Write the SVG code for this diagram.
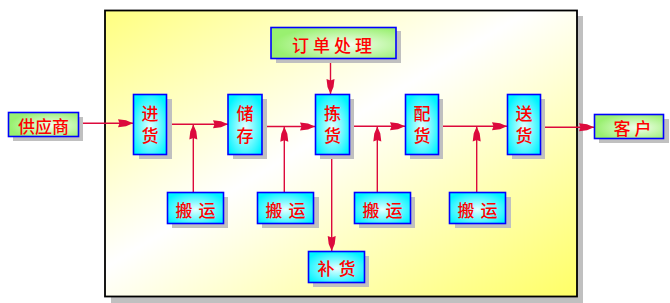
<svg xmlns="http://www.w3.org/2000/svg" width="670" height="303" viewBox="0 0 670 303">
<defs>
<linearGradient id="bg" x1="0" y1="0" x2="1" y2="1">
<stop offset="0" stop-color="#FFFF80"/>
<stop offset="0.45" stop-color="#FFFFFF"/>
<stop offset="1" stop-color="#FFFF66"/>
</linearGradient>
<radialGradient id="cyan" cx="0.5" cy="0.55" r="0.6">
<stop offset="0" stop-color="#E6FFFF"/>
<stop offset="1" stop-color="#00F4FF"/>
</radialGradient>
<radialGradient id="green" cx="0.62" cy="0.55" r="0.6">
<stop offset="0" stop-color="#F4FFF0"/>
<stop offset="1" stop-color="#99F070"/>
</radialGradient>
<marker id="ah" markerUnits="userSpaceOnUse" markerWidth="17" markerHeight="10" viewBox="-16 -5 17 10" refX="0" refY="0" orient="auto">
<path d="M0,0 L-7,-3 L-15,-4 L-13.5,0 L-15,4 L-7,3 Z" fill="#DC0A3C"/>
</marker>
<style>
.sh{fill:#C0C0C0}
.cy{fill:url(#cyan);stroke:#0000FF;stroke-width:1.6}
.gr{fill:url(#green);stroke:#0000FF;stroke-width:1.6}
.t{font-family:"Noto Sans CJK SC","Noto Sans CJK JP",sans-serif;font-size:17px;font-weight:500;fill:#FF0000;text-anchor:middle;dominant-baseline:central}
.v{font-family:"Noto Sans CJK SC","Noto Sans CJK JP",sans-serif;font-size:17px;font-weight:500;fill:#FF0000;writing-mode:vertical-rl;text-orientation:upright;text-anchor:start;dominant-baseline:central;letter-spacing:5px}
.c{stroke:#DC0A3C;stroke-width:1.4;fill:none;marker-end:url(#ah)}
</style>
</defs>
<g id="boundary">
<rect x="111" y="16" width="472" height="287" class="sh"/>
<rect x="105" y="10.5" width="472" height="286" fill="url(#bg)" stroke="#000" stroke-width="1.8"/>
</g>
<g id="connectors">
<line x1="79" y1="123.3" x2="133" y2="123.3" class="c"/>
<line x1="166" y1="124.3" x2="228" y2="124.3" class="c"/>
<line x1="262" y1="126.5" x2="315" y2="126.5" class="c"/>
<line x1="350" y1="126.3" x2="405" y2="126.3" class="c"/>
<line x1="439" y1="126.3" x2="507" y2="126.3" class="c"/>
<line x1="540" y1="127.3" x2="594" y2="127.3" class="c"/>
<line x1="330.5" y1="59" x2="330.5" y2="94" class="c"/>
<line x1="331.7" y1="154" x2="331.7" y2="251" class="c"/>
<line x1="193.3" y1="192" x2="193.3" y2="124.6" class="c"/>
<line x1="284.3" y1="192" x2="284.3" y2="126.8" class="c"/>
<line x1="377.3" y1="192" x2="377.3" y2="126.6" class="c"/>
<line x1="476.7" y1="192" x2="476.7" y2="126.6" class="c"/>
</g>
<g id="supplier">
<rect x="13" y="117" width="70" height="24" class="sh"/>
<rect x="8.5" y="112.5" width="70" height="24" class="gr"/>
<text x="43.5" y="125" class="t">供应商</text>
</g>
<g id="order">
<rect x="276" y="31" width="125" height="32" class="sh"/>
<rect x="271" y="27.5" width="125" height="31" class="gr"/>
<text x="334" y="44" class="t" letter-spacing="4">订单处理</text>
</g>
<g id="customer">
<rect x="599" y="119" width="70" height="24" class="sh"/>
<rect x="594.5" y="114.5" width="69" height="24" class="gr"/>
<text class="t"><tspan x="622" y="127">客</tspan><tspan x="643" y="127">户</tspan></text>
</g>
<g id="receive">
<rect x="139" y="99" width="33" height="60" class="sh"/>
<rect x="133.5" y="94.5" width="33" height="60" class="cy"/>
<text x="150" y="105.5" class="v">进货</text>
</g>
<g id="store">
<rect x="233" y="99" width="34" height="60" class="sh"/>
<rect x="228" y="94.5" width="34" height="60" class="cy"/>
<text x="245" y="105.5" class="v">储存</text>
</g>
<g id="pick">
<rect x="320" y="99" width="34" height="60" class="sh"/>
<rect x="315.5" y="94.5" width="34" height="60" class="cy"/>
<text x="332.5" y="105.5" class="v">拣货</text>
</g>
<g id="distribute">
<rect x="410" y="99" width="33" height="60" class="sh"/>
<rect x="405.5" y="94.5" width="33" height="60" class="cy"/>
<text x="422" y="105.5" class="v">配货</text>
</g>
<g id="deliver">
<rect x="512" y="99" width="33" height="60" class="sh"/>
<rect x="507.5" y="94.5" width="33" height="60" class="cy"/>
<text x="524" y="105.5" class="v">送货</text>
</g>
<g id="move1">
<rect x="172" y="197" width="56" height="31" class="sh"/>
<rect x="167.5" y="192.5" width="56" height="31" class="cy"/>
<text class="t"><tspan x="184" y="208.5">搬</tspan><tspan x="207" y="208.5">运</tspan></text>
</g>
<g id="move2">
<rect x="262" y="197" width="57" height="31" class="sh"/>
<rect x="257.5" y="192.5" width="56" height="31" class="cy"/>
<text class="t"><tspan x="274" y="208.5">搬</tspan><tspan x="297" y="208.5">运</tspan></text>
</g>
<g id="move3">
<rect x="359" y="197" width="56" height="31" class="sh"/>
<rect x="354.5" y="192.5" width="56" height="31" class="cy"/>
<text class="t"><tspan x="371" y="208.5">搬</tspan><tspan x="394" y="208.5">运</tspan></text>
</g>
<g id="move4">
<rect x="455" y="197" width="56" height="31" class="sh"/>
<rect x="449.5" y="192.5" width="56" height="31" class="cy"/>
<text class="t"><tspan x="466" y="208.5">搬</tspan><tspan x="489" y="208.5">运</tspan></text>
</g>
<g id="replenish">
<rect x="313" y="256" width="56" height="31" class="sh"/>
<rect x="308.5" y="251.5" width="56" height="31" class="cy"/>
<text class="t"><tspan x="326" y="267">补</tspan><tspan x="347" y="267">货</tspan></text>
</g>
</svg>
